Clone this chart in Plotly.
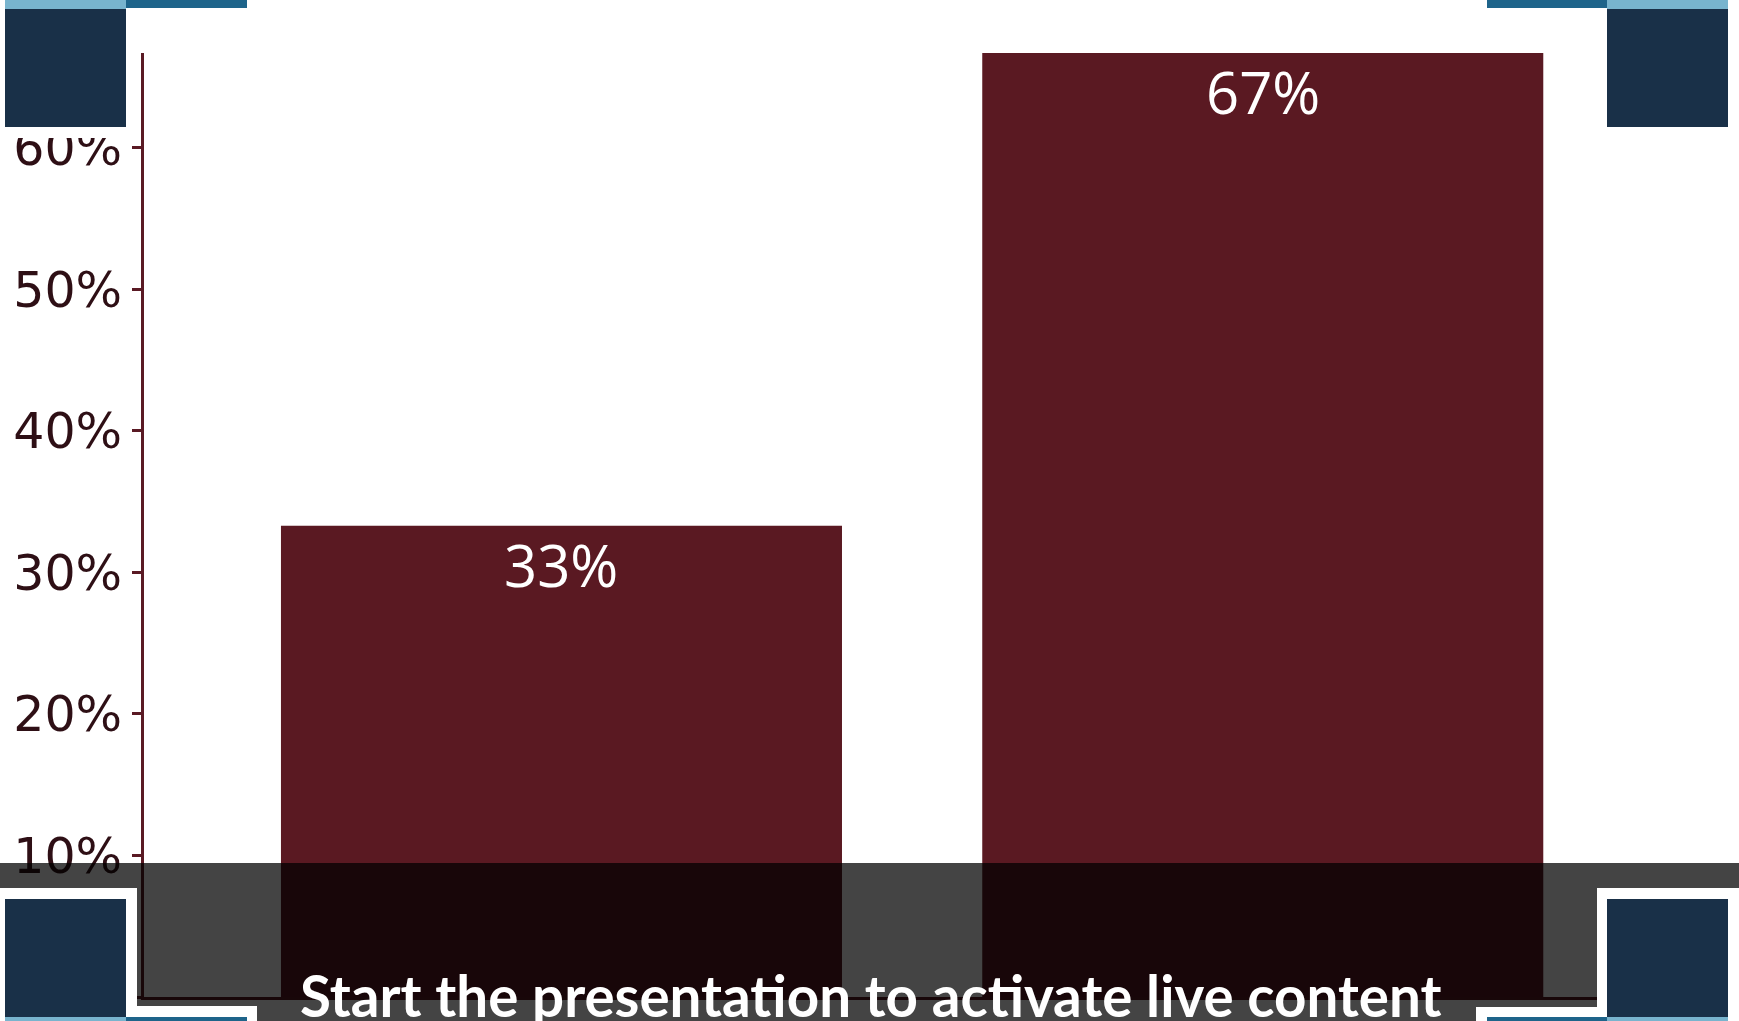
import plotly.graph_objects as go

# Poll results
categories = ["Option A", "Option B"]
shares = [0.333, 0.667]
tick_values = [0.0, 0.1, 0.2, 0.3, 0.4, 0.5, 0.6]
tick_labels = ["0%", "10%", "20%", "30%", "40%", "50%", "60%"]

W, H = 1739, 1021
L, R, T, B = 144, 142, 53, 24
PW, PH = W - L - R, H - T - B

BAR = "#5a1922"
AXIS = "#5a1a24"
TICKTXT = "#2e0f15"
NAVY = "#193048"
LIGHT = "#78b4ce"
MID = "#1e648a"


def px_x(x):
    return (x - L) / PW


def px_y(y):
    return (H - B - y) / PH


def rect(x0, y0, x1, y1, color):
    return dict(type="rect", xref="paper", yref="paper",
                x0=px_x(x0), x1=px_x(x1), y0=px_y(y1), y1=px_y(y0),
                fillcolor=color, line=dict(width=0), layer="above")


fig = go.Figure(go.Bar(
    x=[0, 1], y=shares, width=0.8, marker=dict(color=BAR, line=dict(width=0)),
    hoverinfo="skip",
))

# value labels inside the top of each bar
annotations = []
for i, v in enumerate(shares):
    annotations.append(dict(
        x=i, y=v, xref="x", yref="y", text=f"{v:.0%}", showarrow=False,
        yanchor="top", yshift=3,
        font=dict(family="Open Sans", size=58, color="white"),
    ))

shapes = []
# top corner decorations on white backing
shapes += [
    rect(0, 0, 137, 138, "white"), rect(1597, 0, W, 138, "white"),
    rect(5, 0, 126, 9, LIGHT), rect(126, 0, 247, 8, MID), rect(5, 9, 126, 127, NAVY),
    rect(1487, 0, 1607, 8, MID), rect(1607, 0, 1728, 9, LIGHT), rect(1607, 9, 1728, 127, NAVY),
]
# dimming band along the bottom
shapes.append(rect(0, 863, W, H, "rgba(0,0,0,0.735)"))
# bottom corner decorations on white backing
shapes += [
    rect(0, 888, 137, H, "white"), rect(137, 1006, 257, H, "white"),
    rect(5, 899, 126, 1017, NAVY), rect(5, 1017, 126, H, LIGHT), rect(126, 1017, 247, H, MID),
    rect(1597, 888, W, H, "white"), rect(1476, 1007, 1597, H, "white"),
    rect(1607, 899, 1728, 1017, NAVY), rect(1487, 1017, 1607, H, MID), rect(1607, 1017, 1728, H, LIGHT),
]

annotations.append(dict(
    x=0.5, y=px_y(959), xref="paper", yref="paper", xanchor="center", yanchor="top",
    text="<b>Start the presentation to activate live content</b>", showarrow=False,
    font=dict(family="Lato", size=56.5, color="white"),
))

fig.update_layout(
    width=W, height=H, margin=dict(l=L, r=R, t=T, b=B, pad=0),
    paper_bgcolor="white", plot_bgcolor="white", showlegend=False,
    bargap=0.2, shapes=shapes, annotations=annotations,
    xaxis=dict(range=[-0.5953, 1.4766], showticklabels=False, showgrid=False, zeroline=False,
               showline=True, linecolor=AXIS, linewidth=3, ticks="", fixedrange=True),
    yaxis=dict(range=[0, max(shares)], tickvals=tick_values, ticktext=tick_labels,
               showgrid=False, zeroline=False, showline=True, linecolor=AXIS, linewidth=3,
               ticks="outside", ticklen=9, tickwidth=3, tickcolor=AXIS,
               tickfont=dict(family="DejaVu Sans", size=49, color=TICKTXT), fixedrange=True),
)

fig.write_html("out.html", config={"displayModeBar": False})
